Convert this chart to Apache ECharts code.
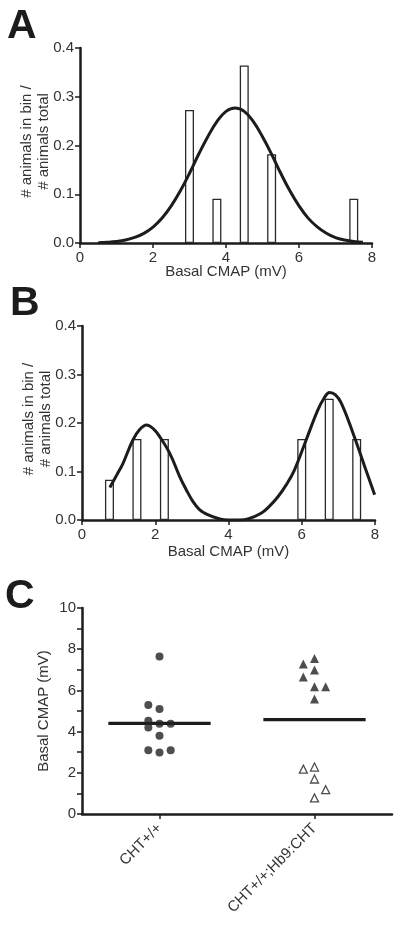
<!DOCTYPE html>
<html>
<head>
<meta charset="utf-8">
<script src="https://cdn.jsdelivr.net/npm/echarts@6/dist/echarts.min.js"></script>
<style>
html,body{margin:0;padding:0;background:#fff;}
#chart{width:400px;height:925px;}
</style>
</head>
<body>
<div id="chart"></div>
<script>
// ---- Panel A: histogram + Gaussian fit ----
var histA_bins = [3.0, 3.75, 4.5, 5.25, 7.5];
var histA_vals = [0.273, 0.091, 0.364, 0.182, 0.091];
var fitA_x = [0.5,0.75,1.0,1.25,1.5,1.75,2.0,2.25,2.5,2.75,3.0,3.25,3.5,3.75,4.0,4.25,4.5,4.75,5.0,5.25,5.5,5.75,6.0,6.25,6.5,6.75,7.0,7.25,7.5,7.75];
var fitA_y = [0.0007,0.0016,0.0032,0.0062,0.0114,0.0198,0.0327,0.0512,0.0761,0.107,0.143,0.182,0.218,0.249,0.270,0.277,0.270,0.249,0.218,0.182,0.143,0.107,0.076,0.051,0.033,0.020,0.011,0.006,0.003,0.0016];

// ---- Panel B: histogram + bimodal fit ----
var histB_bins = [0.75, 1.5, 2.25, 6.0, 6.75, 7.5];
var histB_vals = [0.083, 0.167, 0.167, 0.167, 0.25, 0.167];
var fitB_x = [0.76,0.95,1.12,1.39,1.58,1.76,1.95,2.12,2.40,2.67,2.85,3.03,3.20,3.40,3.76,4.0,4.3,4.53,4.89,5.10,5.35,5.58,5.80,6.12,6.44,6.60,6.76,6.92,7.08,7.40,7.72,7.99];
var fitB_y = [0.067,0.093,0.117,0.165,0.187,0.196,0.188,0.172,0.137,0.089,0.062,0.038,0.022,0.012,0.002,0.0,0.0,0.002,0.014,0.027,0.048,0.073,0.103,0.165,0.227,0.250,0.263,0.258,0.241,0.179,0.110,0.052];

// ---- Panel C: scatter ----
var categoriesC = ['CHT+/+', 'CHT+/+;Hb9:CHT'];
var wtValues   = [7.64, 5.29, 5.10, 4.53, 4.38, 4.38, 4.20, 3.80, 3.09, 2.99, 3.09];
var wtColumns  = [0, -1, 0, -1, 0, 1, -1, 0, -1, 0, 1];
var tgHighValues  = [7.28, 7.55, 6.99, 6.65, 6.18, 6.18, 5.58];
var tgHighColumns = [-1, 0, 0, -1, 0, 1, 0];
var tgLowValues   = [2.18, 2.28, 1.70, 1.18, 0.78];
var tgLowColumns  = [-1, 0, 0, 1, 0];
var groupMeans = [4.40, 4.58];
var yTicksC = [0, 2, 4, 6, 8, 10];

var FONT = 'Liberation Sans, Arial, Helvetica, sans-serif';
var AX = '#1c1c1c';
var TXT = '#333';
var JIT = 0.072;

function zip(xs, ys){ return xs.map(function(x,i){ return [x, ys[i]]; }); }
function jitter(vals, cols, catIdx){ return vals.map(function(v,i){ return [catIdx + 0.5 + cols[i]*JIT, v]; }); }

function valueXAxis(grid){
  return {
    type:'value', gridIndex:grid, min:0, max:8, interval:2,
    name:'Basal CMAP (mV)', nameLocation:'middle', nameGap: grid===0 ? 21 : 24,
    nameMoveOverlap:false,
    nameTextStyle:{fontFamily:FONT, fontSize:15, color:TXT},
    axisLine:{show:true, onZero:false, lineStyle:{color:AX, width:2.5}},
    axisTick:{show:true, length:5, lineStyle:{color:AX, width:1.5}},
    axisLabel:{fontFamily:FONT, fontSize:15, color:TXT, margin:7},
    splitLine:{show:false}
  };
}
function histYAxis(grid){
  return {
    type:'value', gridIndex:grid, min:0, max:0.4, interval:0.1,
    name:'# animals in bin /\n# animals total', nameLocation:'middle', nameGap:28,
    nameMoveOverlap:false,
    nameTextStyle:{fontFamily:FONT, fontSize:15, color:TXT, lineHeight:17, padding:[0,0,0,8]},
    axisLine:{show:true, lineStyle:{color:AX, width:2.5}},
    axisTick:{show:true, length:5, lineStyle:{color:AX, width:1.5}},
    axisLabel:{fontFamily:FONT, fontSize:15, color:TXT, margin:6, formatter:function(v){return v.toFixed(1);}},
    splitLine:{show:false}
  };
}
function histBars(bins, vals, idx){
  return {
    type:'bar', xAxisIndex:idx, yAxisIndex:idx, data:zip(bins, vals), barWidth:9,
    itemStyle:{color:'#fff', borderColor:'#2a2a2a', borderWidth:1.3}, z:2
  };
}
function fitLine(xs, ys, idx){
  return {
    type:'line', xAxisIndex:idx, yAxisIndex:idx, data:zip(xs, ys), smooth:0.4, showSymbol:false,
    lineStyle:{color:'#1c1c1c', width:3}, z:5
  };
}
function meanLine(i){
  return {
    type:'line', xAxisIndex:3, yAxisIndex:2, showSymbol:false,
    data:[[i+0.5-0.33, groupMeans[i]], [i+0.5+0.33, groupMeans[i]]],
    lineStyle:{color:'#1c1c1c', width:3.3}, z:3
  };
}

var chart = echarts.init(document.getElementById('chart'), null, {renderer:'canvas'});
chart.setOption({
  animation:false,
  backgroundColor:'#fff',
  textStyle:{fontFamily:FONT},
  grid:[
    {left:80, top:48, width:292, height:195},
    {left:82, top:326, width:293, height:194},
    {left:82, top:608, width:310, height:206}
  ],
  graphic:[
    {type:'text', left:7, top:6, style:{text:'A', font:'bold 41px ' + FONT, fill:'#1c1c1c'}},
    {type:'text', left:10, top:283, style:{text:'B', font:'bold 41px ' + FONT, fill:'#1c1c1c'}},
    {type:'text', left:5, top:576, style:{text:'C', font:'bold 41px ' + FONT, fill:'#1c1c1c'}}
  ],
  xAxis:[
    valueXAxis(0),
    valueXAxis(1),
    {
      type:'category', gridIndex:2, data:categoriesC, boundaryGap:true,
      axisLine:{show:true, lineStyle:{color:AX, width:2.5}},
      axisTick:{show:true, alignWithLabel:true, length:5, lineStyle:{color:AX, width:1.5}},
      axisLabel:{fontFamily:FONT, fontSize:15, color:TXT, rotate:45, margin:12, interval:0},
      splitLine:{show:false}
    },
    {type:'value', gridIndex:2, min:0, max:2, show:false}
  ],
  yAxis:[
    histYAxis(0),
    histYAxis(1),
    {
      type:'value', gridIndex:2, min:0, max:10, interval:1,
      name:'Basal CMAP (mV)', nameLocation:'middle', nameGap:31,
      nameMoveOverlap:false,
      nameTextStyle:{fontFamily:FONT, fontSize:15, color:TXT},
      axisLine:{show:true, lineStyle:{color:AX, width:2.5}},
      axisTick:{show:true, length:5, lineStyle:{color:AX, width:1.5}},
      axisLabel:{fontFamily:FONT, fontSize:15, color:TXT, margin:6,
        formatter:function(v){ return yTicksC.indexOf(v) >= 0 ? String(v) : ''; }},
      splitLine:{show:false}
    }
  ],
  series:[
    histBars(histA_bins, histA_vals, 0),
    fitLine(fitA_x, fitA_y, 0),
    histBars(histB_bins, histB_vals, 1),
    fitLine(fitB_x, fitB_y, 1),
    meanLine(0),
    meanLine(1),
    {type:'scatter', xAxisIndex:3, yAxisIndex:2, data:jitter(wtValues, wtColumns, 0),
     symbol:'circle', symbolSize:8, itemStyle:{color:'#222'}, z:4},
    {type:'scatter', xAxisIndex:3, yAxisIndex:2, data:jitter(tgHighValues, tgHighColumns, 1),
     symbol:'triangle', symbolSize:9, itemStyle:{color:'#222'}, z:4},
    {type:'scatter', xAxisIndex:3, yAxisIndex:2, data:jitter(tgLowValues, tgLowColumns, 1),
     symbol:'triangle', symbolSize:8, itemStyle:{color:'#fff', borderColor:'#222', borderWidth:1.3}, z:4}
  ]
});
</script>
</body>
</html>
